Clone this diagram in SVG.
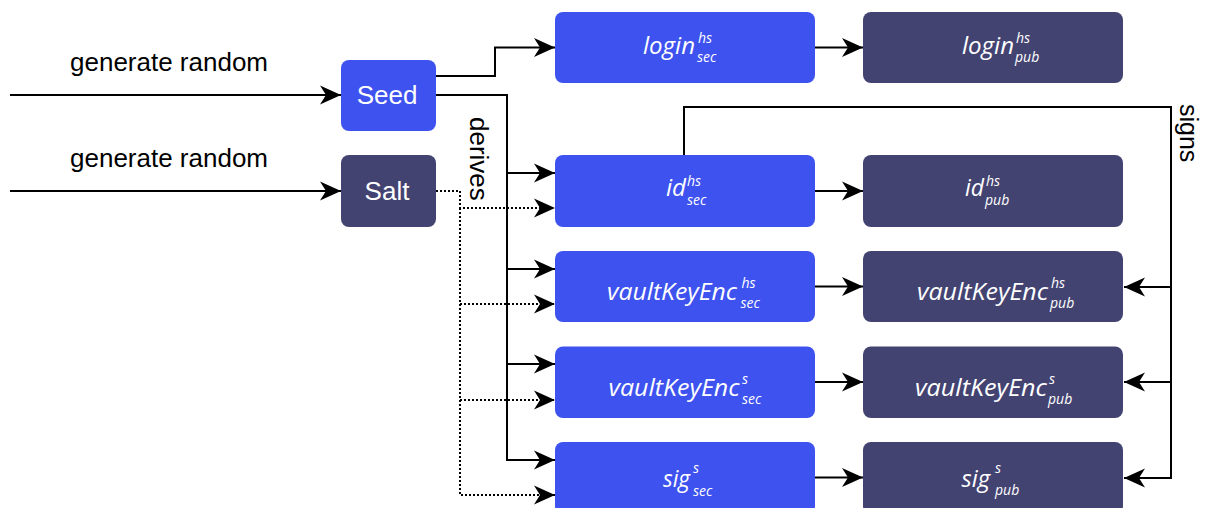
<svg xmlns="http://www.w3.org/2000/svg" width="1205" height="508" viewBox="0 0 1205 508">
  <defs>
    <marker id="arrow" markerUnits="userSpaceOnUse" markerWidth="22" markerHeight="20" viewBox="-21 -10 22 20" refX="0" refY="0" orient="auto">
      <path d="M0,0 L-21,-9.5 L-15,0 L-21,9.5 Z" fill="#000"/>
    </marker>
  </defs>
  <style>
    .sec { fill: #3d52ef; }
    .pub { fill: #434372; }
    .plain { font-family: "Liberation Sans", Arial, sans-serif; font-size: 26px; }
    .box-label { fill: #fff; text-anchor: middle; }
    .math { font-family: "Open Sans", "Noto Sans", sans-serif; font-style: italic; font-weight: 400; fill: #fff; font-size: 24px; }
    .math-s { font-family: "Open Sans", "Noto Sans", sans-serif; font-style: italic; font-weight: 400; fill: #fff; font-size: 14px; }
    .wire { fill: none; stroke: #000; stroke-width: 2; }
    .dot { stroke-dasharray: 2 2; }
  </style>

  <rect width="1205" height="508" fill="#fff"/>

  <!-- connectors -->
  <g id="connectors">
    <path class="wire" d="M10,95 H341" marker-end="url(#arrow)"/>
    <path class="wire" d="M10,191 H341" marker-end="url(#arrow)"/>
    <path class="wire" d="M436,76 H495 V47.5 H555" marker-end="url(#arrow)"/>
    <path class="wire" d="M436,95 H507 V173 H555" marker-end="url(#arrow)"/>
    <path class="wire" d="M507,173 V269 H555" marker-end="url(#arrow)"/>
    <path class="wire" d="M507,269 V364 H555" marker-end="url(#arrow)"/>
    <path class="wire" d="M507,364 V460 H555" marker-end="url(#arrow)"/>
    <path class="wire dot" d="M436,191 H460 V208 H555" marker-end="url(#arrow)"/>
    <path class="wire dot" d="M460,208 V304 H555" marker-end="url(#arrow)"/>
    <path class="wire dot" d="M460,304 V400 H555" marker-end="url(#arrow)"/>
    <path class="wire dot" d="M460,400 V495 H555" marker-end="url(#arrow)"/>
    <path class="wire" d="M815,47.5 H863" marker-end="url(#arrow)"/>
    <path class="wire" d="M815,191 H863" marker-end="url(#arrow)"/>
    <path class="wire" d="M815,286.5 H863" marker-end="url(#arrow)"/>
    <path class="wire" d="M815,382 H863" marker-end="url(#arrow)"/>
    <path class="wire" d="M815,477.5 H863" marker-end="url(#arrow)"/>
    <path class="wire" d="M684,155 V107 H1171 V287 H1124" marker-end="url(#arrow)"/>
    <path class="wire" d="M1171,287 V382 H1124" marker-end="url(#arrow)"/>
    <path class="wire" d="M1171,382 V478 H1124" marker-end="url(#arrow)"/>
    <text class="plain" x="70" y="71">generate random</text>
    <text class="plain" x="70" y="167">generate random</text>
    <text class="plain" transform="translate(470,117) rotate(90)">derives</text>
    <text class="plain" style="font-size:25px" transform="translate(1180,104) rotate(90)">signs</text>
  </g>

  <!-- sources -->
  <g id="seed">
    <rect class="sec" x="341" y="60" width="95" height="71" rx="8"/>
    <text class="plain box-label" x="387" y="103.5">Seed</text>
  </g>
  <g id="salt">
    <rect class="pub" x="341" y="155" width="95" height="72" rx="8"/>
    <text class="plain box-label" x="387" y="199.5">Salt</text>
  </g>

  <!-- secret keys -->
  <g id="login-sec">
    <rect class="sec" x="555" y="12" width="260" height="71" rx="8"/>
    <text class="math" x="643" y="53.5" textLength="52" lengthAdjust="spacingAndGlyphs">login</text>
    <text class="math-s" x="698" y="42.5">hs</text>
    <text class="math-s" x="697" y="61.5">sec</text>
  </g>
  <g id="id-sec">
    <rect class="sec" x="555" y="155" width="260" height="72" rx="8"/>
    <text class="math" x="666" y="196" textLength="20" lengthAdjust="spacingAndGlyphs">id</text>
    <text class="math-s" x="687" y="186">hs</text>
    <text class="math-s" x="687" y="205">sec</text>
  </g>
  <g id="vke-hs-sec">
    <rect class="sec" x="555" y="251" width="260" height="71" rx="8"/>
    <text class="math" x="607" y="300" textLength="130" lengthAdjust="spacingAndGlyphs">vaultKeyEnc</text>
    <text class="math-s" x="741.5" y="288">hs</text>
    <text class="math-s" x="740.5" y="308">sec</text>
  </g>
  <g id="vke-s-sec">
    <rect class="sec" x="555" y="346.5" width="260" height="71.5" rx="8"/>
    <text class="math" x="608.5" y="395.5" textLength="131" lengthAdjust="spacingAndGlyphs">vaultKeyEnc</text>
    <text class="math-s" x="742" y="383.5">s</text>
    <text class="math-s" x="742" y="403.5">sec</text>
  </g>
  <g id="sig-sec">
    <rect class="sec" x="555" y="442" width="260" height="72" rx="8"/>
    <text class="math" x="663" y="486.5" textLength="27" lengthAdjust="spacingAndGlyphs">sig</text>
    <text class="math-s" x="693" y="473">s</text>
    <text class="math-s" x="693" y="496">sec</text>
  </g>

  <!-- public keys -->
  <g id="login-pub">
    <rect class="pub" x="863" y="12" width="260" height="71" rx="8"/>
    <text class="math" x="962" y="53.5" textLength="52" lengthAdjust="spacingAndGlyphs">login</text>
    <text class="math-s" x="1016" y="42.5">hs</text>
    <text class="math-s" x="1015" y="61.5">pub</text>
  </g>
  <g id="id-pub">
    <rect class="pub" x="863" y="155" width="260" height="72" rx="8"/>
    <text class="math" x="965" y="196" textLength="19" lengthAdjust="spacingAndGlyphs">id</text>
    <text class="math-s" x="986" y="186">hs</text>
    <text class="math-s" x="985" y="205">pub</text>
  </g>
  <g id="vke-hs-pub">
    <rect class="pub" x="863" y="251" width="260" height="71" rx="8"/>
    <text class="math" x="917" y="300" textLength="131" lengthAdjust="spacingAndGlyphs">vaultKeyEnc</text>
    <text class="math-s" x="1051" y="288">hs</text>
    <text class="math-s" x="1050" y="308">pub</text>
  </g>
  <g id="vke-s-pub">
    <rect class="pub" x="863" y="346.5" width="260" height="71.5" rx="8"/>
    <text class="math" x="915" y="395.5" textLength="132" lengthAdjust="spacingAndGlyphs">vaultKeyEnc</text>
    <text class="math-s" x="1049" y="383.5">s</text>
    <text class="math-s" x="1048" y="403.5">pub</text>
  </g>
  <g id="sig-pub">
    <rect class="pub" x="863" y="442" width="260" height="72" rx="8"/>
    <text class="math" x="961.5" y="486.5" textLength="28.5" lengthAdjust="spacingAndGlyphs">sig</text>
    <text class="math-s" x="995" y="473">s</text>
    <text class="math-s" x="995" y="495">pub</text>
  </g>
</svg>
